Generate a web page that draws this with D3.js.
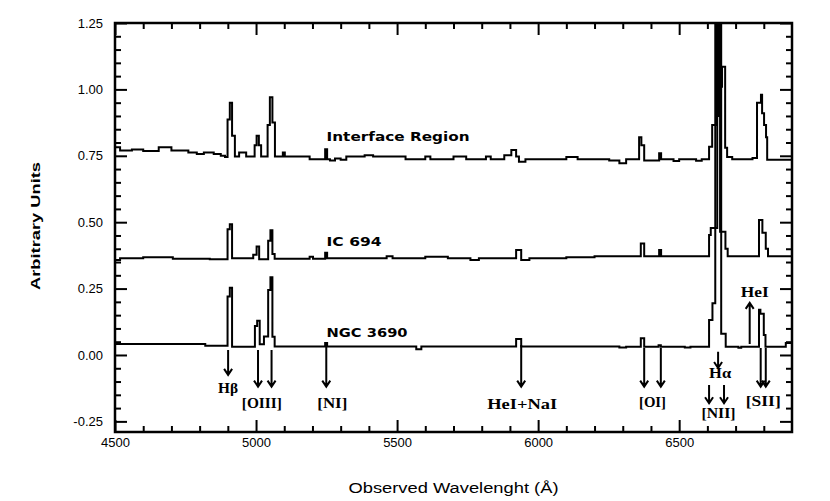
<!DOCTYPE html>
<html>
<head>
<meta charset="utf-8">
<script src="https://cdn.jsdelivr.net/npm/d3@7"></script>
<style>
  body { margin: 0; background: #fff; }
  .tick text { font-family: "Liberation Sans", Arial, sans-serif; font-size: 13px; fill: #000; }
  .tick line { stroke: #000; stroke-width: 2; }
</style>
</head>
<body>
<div id="spectra"></div>
<script>

// axis ticks
var xTicks = [4500, 5000, 5500, 6000, 6500];
var yTicks = [-0.25, 0, 0.25, 0.5, 0.75, 1.0, 1.25];

// spectra: [observed wavelength (A), flux], drawn as steps
var spectrumNames = ["Interface Region", "IC 694", "NGC 3690"];

var interfaceSpec = [
  [4500, 0.782], [4518, 0.770], [4560, 0.774], [4600, 0.768], [4655, 0.782], [4700, 0.770],
  [4760, 0.762], [4790, 0.757], [4815, 0.762], [4850, 0.757], [4875, 0.750], [4890, 0.745],
  [4899, 0.887], [4907, 0.950], [4915, 0.825], [4925, 0.747], [4940, 0.762], [4965, 0.747],
  [4995, 0.790], [5002, 0.825], [5010, 0.790], [5018, 0.747],
  [5041, 0.866], [5049, 0.970], [5058, 0.875], [5067, 0.747], [5095, 0.762], [5102, 0.747],
  [5190, 0.737], [5245, 0.775], [5252, 0.737], [5262, 0.732], [5280, 0.740], [5300, 0.735],
  [5320, 0.747], [5385, 0.752], [5415, 0.747], [5530, 0.737], [5600, 0.747], [5618, 0.737],
  [5700, 0.747], [5745, 0.737], [5815, 0.747], [5832, 0.737], [5880, 0.752], [5905, 0.772],
  [5922, 0.747], [5932, 0.728], [5955, 0.737], [6100, 0.745], [6140, 0.737], [6252, 0.732],
  [6288, 0.722], [6312, 0.737], [6358, 0.820], [6366, 0.790], [6376, 0.732], [6429, 0.760],
  [6436, 0.737], [6480, 0.730], [6500, 0.737], [6560, 0.731], [6580, 0.737],
  [6606, 0.784], [6617, 0.866], [6631, 1.600], [6642, 1.010], [6652, 1.085], [6663, 0.780],
  [6670, 0.745], [6688, 0.737], [6760, 0.742], [6776, 0.950], [6790, 0.980], [6794, 0.910],
  [6801, 0.866], [6808, 0.820], [6812, 0.735], [6900, 0.735]
];

var ic694Spec = [
  [4500, 0.358], [4518, 0.364], [4600, 0.368], [4705, 0.362], [4836, 0.360],
  [4899, 0.473], [4907, 0.492], [4915, 0.364], [4990, 0.377], [5002, 0.408], [5011, 0.360],
  [5043, 0.430], [5051, 0.470], [5058, 0.380], [5066, 0.362], [5190, 0.370], [5202, 0.362],
  [5245, 0.385], [5252, 0.364], [5463, 0.372], [5484, 0.364], [5600, 0.370], [5680, 0.364],
  [5760, 0.358], [5790, 0.364], [5922, 0.395], [5940, 0.358], [5969, 0.364], [6100, 0.368],
  [6200, 0.372], [6364, 0.420], [6376, 0.372], [6429, 0.395], [6436, 0.372],
  [6606, 0.452], [6612, 0.478], [6635, 1.600], [6645, 0.464], [6664, 0.400], [6672, 0.372],
  [6783, 0.508], [6795, 0.460], [6807, 0.400], [6815, 0.372], [6900, 0.372]
];

var ngc3690Spec = [
  [4500, 0.041], [4820, 0.035], [4899, 0.220], [4907, 0.253], [4915, 0.031],
  [4996, 0.109], [5004, 0.129], [5013, 0.040], [5028, 0.070], [5043, 0.245], [5051, 0.293],
  [5058, 0.069], [5066, 0.032], [5245, 0.045], [5252, 0.032], [5568, 0.022], [5586, 0.032],
  [5922, 0.060], [5940, 0.032], [6288, 0.028], [6312, 0.031], [6364, 0.063], [6376, 0.031],
  [6427, 0.037], [6435, 0.031], [6520, 0.028], [6540, 0.031],
  [6606, 0.132], [6618, 0.195], [6628, 1.600], [6638, 0.900], [6642, 1.600], [6649, 0.080],
  [6665, 0.031], [6710, 0.027], [6720, 0.031], [6783, 0.170], [6788, 0.155], [6800, 0.075],
  [6806, 0.031], [6878, 0.045], [6900, 0.045]
];

// emission line identifications
var lineNames = ["H\u03b2", "[OIII]", "[NI]", "HeI+NaI", "[OI]", "H\u03b1", "[NII]", "[SII]", "HeI"];
var lineWaves = [[4901], [5007, 5055], [5249], [5940], [6376, 6435], [6638], [6606, 6659], [6789, 6807], [6750]];


var svgWidth = 830;
var svgHeight = 501;

var margin = {
  top: 23,
  right: 38,
  bottom: 69,
  left: 115
};

var width = svgWidth - margin.left - margin.right;
var height = svgHeight - margin.top - margin.bottom;

var svg = d3.select("#spectra")
  .append("svg")
  .attr("width", svgWidth)
  .attr("height", svgHeight)
  .style("background", "#fff");

var chartGroup = svg.append("g")
  .attr("transform", `translate(${margin.left}, ${margin.top})`);

var xScale = d3.scaleLinear().domain([4500, 6900]).range([0, width]);
var yScale = d3.scaleLinear().domain([-0.29, 1.25]).range([height, 0]);

var xMinor = d3.range(4600, 6900, 100).filter(d => d % 500 !== 0);
var yMinor = d3.range(-0.25, 1.25, 0.05).filter(d => Math.abs(d / 0.25 - Math.round(d / 0.25)) > 0.01);

function noDomain(g) { g.select(".domain").remove(); }

// major + minor ticks on all four sides, pointing inwards
chartGroup.append("g").attr("transform", `translate(0, ${height})`)
  .call(d3.axisBottom(xScale).tickValues(xTicks).tickSize(-12).tickPadding(6).tickFormat(d3.format("d"))).call(noDomain);
chartGroup.append("g").attr("transform", `translate(0, ${height})`)
  .call(d3.axisBottom(xScale).tickValues(xMinor).tickSize(-6).tickFormat("")).call(noDomain);
chartGroup.append("g")
  .call(d3.axisTop(xScale).tickValues(xTicks).tickSize(-12).tickFormat("")).call(noDomain);
chartGroup.append("g")
  .call(d3.axisTop(xScale).tickValues(xMinor).tickSize(-6).tickFormat("")).call(noDomain);

chartGroup.append("g")
  .call(d3.axisLeft(yScale).tickValues(yTicks).tickSize(-12).tickPadding(12).tickFormat(d => d.toFixed(2))).call(noDomain);
chartGroup.append("g")
  .call(d3.axisLeft(yScale).tickValues(yMinor).tickSize(-6).tickFormat("")).call(noDomain);
chartGroup.append("g").attr("transform", `translate(${width}, 0)`)
  .call(d3.axisRight(yScale).tickValues(yTicks).tickSize(-12).tickFormat("")).call(noDomain);
chartGroup.append("g").attr("transform", `translate(${width}, 0)`)
  .call(d3.axisRight(yScale).tickValues(yMinor).tickSize(-6).tickFormat("")).call(noDomain);

chartGroup.append("clipPath").attr("id", "plotclip")
  .append("rect").attr("width", width).attr("height", height);

var stepLine = d3.line()
  .x(d => xScale(d[0]))
  .y(d => yScale(d[1]))
  .curve(d3.curveStepAfter);

chartGroup.selectAll(".spectrum")
  .data([interfaceSpec, ic694Spec, ngc3690Spec])
  .enter()
  .append("path")
  .attr("class", "spectrum")
  .attr("clip-path", "url(#plotclip)")
  .attr("d", stepLine)
  .attr("fill", "none")
  .attr("stroke", "black")
  .attr("stroke-width", 2);

chartGroup.append("rect")
  .attr("width", width)
  .attr("height", height)
  .attr("fill", "none")
  .attr("stroke", "black")
  .attr("stroke-width", 2.5);

// spectrum names
var nameLayout = [
  {wave: 5250, flux: 0.806, len: 143},
  {wave: 5250, flux: 0.410, len: 55},
  {wave: 5250, flux: 0.068, len: 81}
];
chartGroup.selectAll(".specname")
  .data(spectrumNames)
  .enter()
  .append("text")
  .attr("x", (d, i) => xScale(nameLayout[i].wave))
  .attr("y", (d, i) => yScale(nameLayout[i].flux))
  .attr("textLength", (d, i) => nameLayout[i].len)
  .attr("lengthAdjust", "spacingAndGlyphs")
  .style("font-family", "'DejaVu Sans', sans-serif")
  .style("font-weight", "bold")
  .style("font-size", "13px")
  .text(d => d);

// arrows + labels for the line ids (flux units for arrow ends)
var annotLayout = [
  {from: 0.019, to: -0.075, labelY: -0.124, dx: 0, len: 20},
  {from: 0.019, to: -0.119, labelY: -0.181, dx: -3, len: 40},
  {from: 0.038, to: -0.119, labelY: -0.181, dx: 6, len: 30},
  {from: 0.038, to: -0.119, labelY: -0.184, dx: 1, len: 70},
  {from: 0.026, to: -0.119, labelY: -0.177, dx: 0, len: 27},
  {from: 0.012, to: -0.049, labelY: -0.068, dx: 2, len: 22},
  {from: -0.113, to: -0.182, labelY: -0.218, dx: 2, len: 34},
  {from: 0.026, to: -0.119, labelY: -0.173, dx: 0, len: 35},
  {from: 0.041, to: 0.196, labelY: 0.237, dx: 5, len: 28}
];

var arrows = [];
lineNames.forEach(function(name, i) {
  lineWaves[i].forEach(function(w) {
    arrows.push({x: xScale(w), y1: yScale(annotLayout[i].from), y2: yScale(annotLayout[i].to)});
  });
});

chartGroup.selectAll(".arrow")
  .data(arrows)
  .enter()
  .append("path")
  .attr("class", "arrow")
  .attr("d", function(a) {
    var dir = a.y2 > a.y1 ? 1 : -1;
    return `M${a.x},${a.y1}L${a.x},${a.y2}M${a.x - 4},${a.y2 - dir * 6}L${a.x},${a.y2}L${a.x + 4},${a.y2 - dir * 6}`;
  })
  .attr("fill", "none")
  .attr("stroke", "black")
  .attr("stroke-width", 2);

chartGroup.selectAll(".lineid")
  .data(lineNames)
  .enter()
  .append("text")
  .attr("class", "lineid")
  .attr("x", (d, i) => d3.mean(lineWaves[i], w => xScale(w)) + annotLayout[i].dx)
  .attr("y", (d, i) => yScale(annotLayout[i].labelY))
  .attr("dy", "0.35em")
  .attr("text-anchor", "middle")
  .attr("textLength", (d, i) => annotLayout[i].len)
  .attr("lengthAdjust", "spacingAndGlyphs")
  .style("font-family", "'Liberation Serif', serif")
  .style("font-weight", "bold")
  .style("font-size", "15px")
  .text(d => d);

// axis titles
svg.append("text")
  .attr("transform", "translate(35, 226) rotate(-90)")
  .attr("text-anchor", "middle")
  .attr("dy", "0.35em")
  .attr("textLength", 128)
  .attr("lengthAdjust", "spacingAndGlyphs")
  .style("font-family", "'Liberation Sans', Arial, sans-serif")
  .style("font-weight", "bold")
  .style("font-size", "13px")
  .text("Arbitrary Units");

svg.append("text")
  .attr("x", margin.left + width / 2)
  .attr("y", 488)
  .attr("text-anchor", "middle")
  .attr("dy", "0.35em")
  .attr("textLength", 210)
  .attr("lengthAdjust", "spacingAndGlyphs")
  .style("font-family", "'Liberation Sans', Arial, sans-serif")
  .style("font-size", "14px")
  .text("Observed Wavelenght (\u00c5)");

</script>
</body>
</html>
